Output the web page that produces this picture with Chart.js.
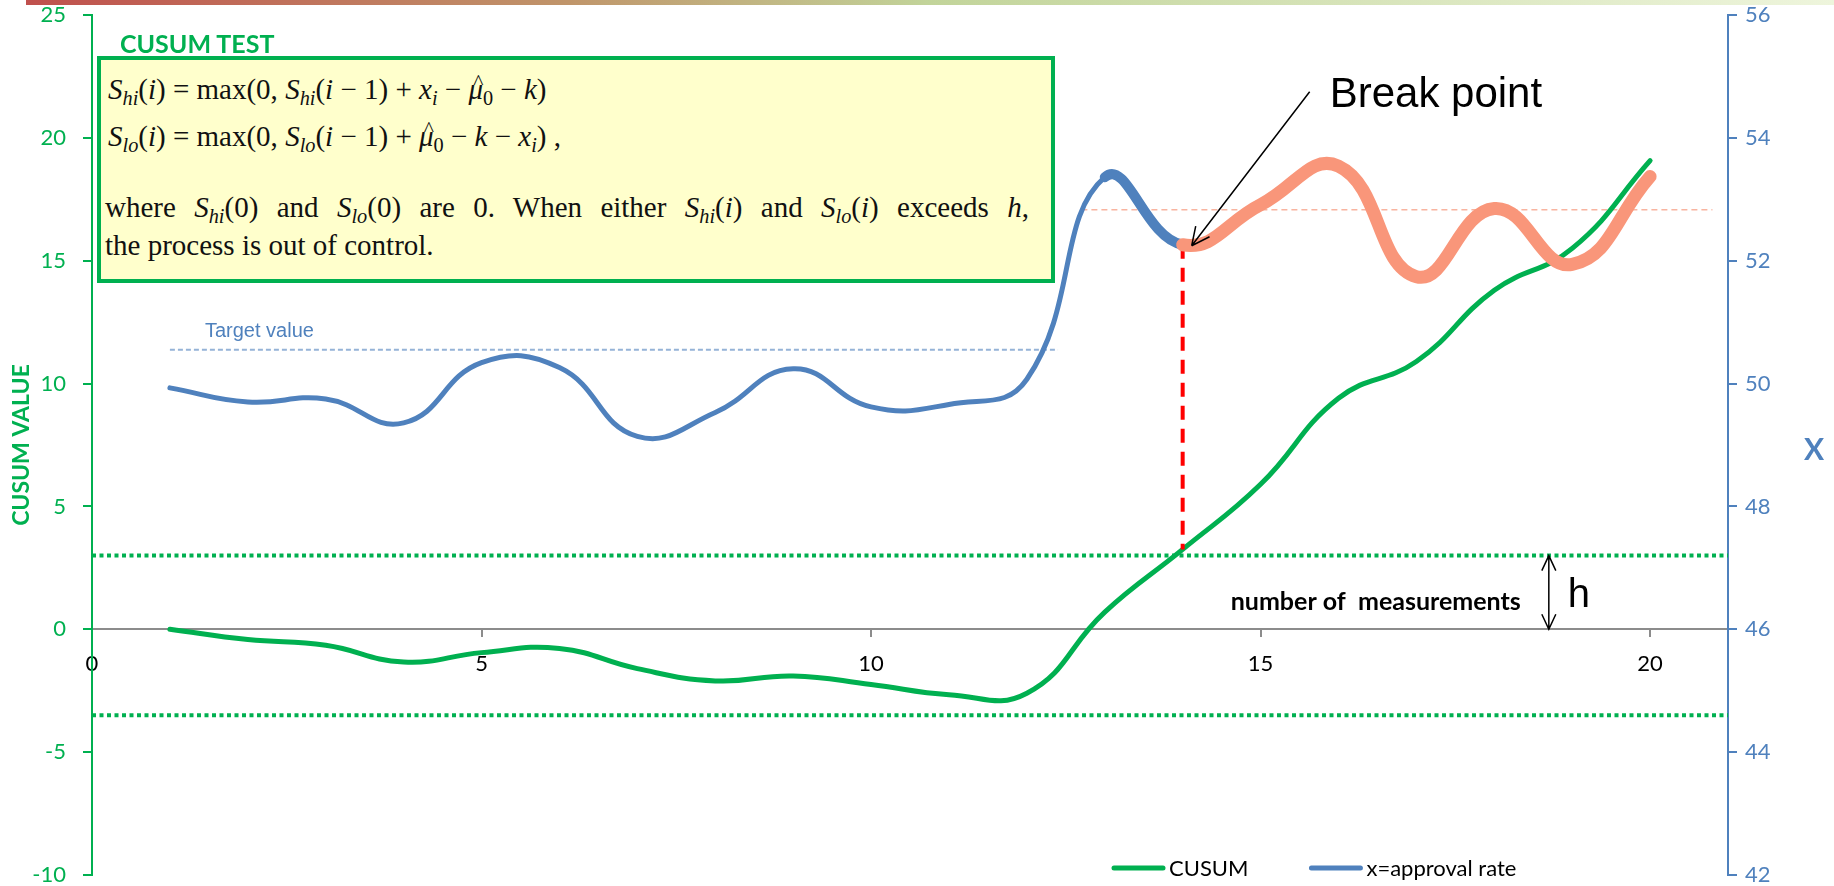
<!DOCTYPE html>
<html>
<head>
<meta charset="utf-8">
<script src="https://cdn.jsdelivr.net/npm/chart.js@4.4.1/dist/chart.umd.min.js"></script>
<style>
  html, body { margin: 0; padding: 0; background: #fff; }
  #wrap { position: relative; width: 1834px; height: 886px; overflow: hidden; }
  #chart { position: absolute; left: 0; top: 0; }
  #testTitle { position: absolute; left: 120px; top: 31px; font: bold 25px Lato, sans-serif; line-height: 25px; color: #00b050; white-space: nowrap; }
  #box { position: absolute; left: 97px; top: 56px; width: 958px; height: 227px; box-sizing: border-box;
         border: 4px solid #00b050; background: #ffffcc; font-family: "Liberation Serif", serif; font-size: 29px; color: #111; }
  #box .ln { position: absolute; line-height: 32px; white-space: nowrap; }
  #box .just { width: 924px; text-align: justify; text-align-last: justify; white-space: normal; }
  #box sub { font-size: 0.7em; font-style: italic; vertical-align: -0.28em; line-height: 0; }
  #box sub.n { font-style: normal; }
  .hat { position: relative; display: inline-block; font-style: italic; }
  .hat::before { content: "^"; position: absolute; left: 0.22em; top: -0.3em; font-style: normal; font-size: 0.75em; }
</style>
</head>
<body>
<div id="wrap">
  <canvas id="chart" width="1834" height="886"></canvas>
  <div id="testTitle">CUSUM TEST</div>
  <div id="box">
    <div class="ln" style="top:13px;left:7px"><i>S</i><sub>hi</sub>(<i>i</i>) = max(0, <i>S</i><sub>hi</sub>(<i>i</i> − 1) + <i>x</i><sub>i</sub> − <span class="hat">μ</span><sub class="n">0</sub> − <i>k</i>)</div>
    <div class="ln" style="top:60px;left:7px"><i>S</i><sub>lo</sub>(<i>i</i>) = max(0, <i>S</i><sub>lo</sub>(<i>i</i> − 1) + <span class="hat">μ</span><sub class="n">0</sub> − <i>k</i> − <i>x</i><sub>i</sub>) ,</div>
    <div class="ln just" style="top:131px;left:4px">where <i>S</i><sub>hi</sub>(0) and <i>S</i><sub>lo</sub>(0) are 0. When either <i>S</i><sub>hi</sub>(<i>i</i>) and <i>S</i><sub>lo</sub>(<i>i</i>) exceeds <i>h</i>,</div>
    <div class="ln" style="top:169px;left:4px">the process is out of control.</div>
  </div>
</div>
<script>
// measurement number on the x axis
const measurements = [1, 2, 3, 4, 5, 6, 7, 8, 9, 10, 11, 12, 13, 14, 15, 16, 17, 18, 19, 20];
// CUSUM value (left axis)
const cusumValues = [0, -0.42, -0.65, -1.33, -0.95, -0.78, -1.6, -2.1, -1.9, -2.25, -2.66, -2.6, 0.7, 3.25, 5.9, 9.4, 10.9, 13.8, 15.5, 19.07];
// x = approval rate (right axis)
const approvalRate = [49.93, 49.7, 49.75, 49.36, 50.34, 50.26, 49.14, 49.53, 50.24, 49.62, 49.66, 50.07, 53.36, 52.26, 52.91, 53.54, 51.74, 52.85, 51.94, 53.37];

// reference levels
const hUpper = 3;
const hLower = -3.5;
const targetValue = 50.55;
const targetSpan = [1, 12.4];
const shiftedLevel = 52.83;
const shiftedSpan = [12.7, 20.8];
const breakIndex = 13;          // measurement 14
const breakBottom = 47.3;       // right-axis value where the red marker stops
const hArrowAt = 18.7;

// tick labels
const cusumTicks = [-10, -5, 0, 5, 10, 15, 20, 25];
const rateTicks = [42, 44, 46, 48, 50, 52, 54, 56];
const measureTicks = [0, 5, 10, 15, 20];

const green = '#00b050';
const blue = '#4f81bd';
const salmon = '#f9967a';

const pts = (xs, ys) => xs.map((x, i) => ({ x: x, y: ys[i] }));

// Top banner, annotations, right title and legend
const decorations = {
  id: 'decorations',
  beforeDraw(chart) {
    const ctx = chart.ctx;
    const g = ctx.createLinearGradient(26, 0, chart.width, 0);
    g.addColorStop(0, '#c0504d');
    g.addColorStop(0.3, '#c0956a');
    g.addColorStop(0.5, '#c2d49a');
    g.addColorStop(1, '#eef5dc');
    ctx.save();
    ctx.fillStyle = g;
    ctx.fillRect(26, 0, chart.width - 26, 5);
    ctx.restore();
  },
  afterDraw(chart) {
    const ctx = chart.ctx;
    const xs = chart.scales.x, yl = chart.scales.y, yr = chart.scales.y2;
    ctx.save();

    // Target value label
    ctx.fillStyle = blue;
    ctx.font = '20px "Liberation Sans", Arial';
    ctx.textBaseline = 'alphabetic';
    ctx.fillText('Target value', xs.getPixelForValue(1.45), yr.getPixelForValue(targetValue) - 13);

    // Break point arrow
    const tipX = xs.getPixelForValue(measurements[breakIndex]) + 9;
    const tipY = yr.getPixelForValue(approvalRate[breakIndex]) + 1;
    const tailX = tipX + 118, tailY = tipY - 154;
    ctx.strokeStyle = '#000';
    ctx.lineWidth = 1.5;
    ctx.beginPath();
    ctx.moveTo(tailX, tailY);
    ctx.lineTo(tipX, tipY);
    const ang = Math.atan2(tailY - tipY, tailX - tipX);
    [0.45, -0.45].forEach(d => {
      ctx.moveTo(tipX, tipY);
      ctx.lineTo(tipX + 20 * Math.cos(ang + d), tipY + 20 * Math.sin(ang + d));
    });
    ctx.stroke();
    ctx.fillStyle = '#000';
    ctx.font = '42px "Liberation Sans", Arial';
    ctx.fillText('Break point', tailX + 20, tailY + 15);

    // h double arrow
    const hx = xs.getPixelForValue(hArrowAt);
    const top = yl.getPixelForValue(hUpper), bot = yl.getPixelForValue(0);
    ctx.lineWidth = 1.5;
    ctx.beginPath();
    ctx.moveTo(hx, top); ctx.lineTo(hx, bot);
    ctx.moveTo(hx - 7, top + 15); ctx.lineTo(hx, top); ctx.lineTo(hx + 7, top + 15);
    ctx.moveTo(hx - 7, bot - 15); ctx.lineTo(hx, bot); ctx.lineTo(hx + 7, bot - 15);
    ctx.stroke();
    ctx.font = '40px "Liberation Sans", Arial';
    ctx.fillText('h', hx + 19, bot - 22);

    ctx.font = 'bold 25px Lato, sans-serif';
    ctx.textAlign = 'right';
    ctx.textBaseline = 'middle';
    ctx.fillText('number of  measurements', hx - 28, bot - 27);

    // right axis title
    ctx.textAlign = 'center';
    ctx.fillStyle = blue;
    ctx.font = 'bold 30px Lato, sans-serif';
    ctx.fillText('X', 1814, (chart.chartArea.top + chart.chartArea.bottom) / 2 + 5);

    // legend
    let lx = 1111;
    const ly = 868;
    ctx.textAlign = 'left';
    ctx.font = '22px Lato, sans-serif';
    ctx.lineCap = 'round';
    chart.data.datasets.slice(0, 2).forEach(ds => {
      ctx.strokeStyle = ds.borderColor;
      ctx.lineWidth = 5;
      ctx.beginPath();
      ctx.moveTo(lx + 3, ly); ctx.lineTo(lx + 52, ly);
      ctx.stroke();
      ctx.fillStyle = '#000';
      ctx.fillText(ds.label, lx + 58, ly + 1);
      lx += 58 + ctx.measureText(ds.label).width + 60;
    });
    ctx.restore();
  }
};

new Chart(document.getElementById('chart'), {
  type: 'line',
  data: {
    datasets: [
      {
        label: 'CUSUM',
        data: pts(measurements, cusumValues),
        yAxisID: 'y',
        borderColor: green,
        borderWidth: 5,
        tension: 0.45,
        pointRadius: 0,
        borderCapStyle: 'round',
        order: 3
      },
      {
        label: 'x=approval rate',
        data: pts(measurements, approvalRate),
        yAxisID: 'y2',
        borderColor: blue,
        borderWidth: 5,
        tension: 0.45,
        pointRadius: 0,
        borderCapStyle: 'round',
        order: 1,
        segment: {
          borderColor: c => c.p0DataIndex >= breakIndex ? salmon : blue,
          borderWidth: c => c.p0DataIndex >= breakIndex ? 13 : (c.p0DataIndex === breakIndex - 1 ? 10 : 5)
        }
      },
      {
        label: 'upper h',
        data: [{ x: 0, y: hUpper }, { x: 21, y: hUpper }],
        yAxisID: 'y', borderColor: green, borderWidth: 4, borderDash: [4, 3.5], pointRadius: 0, order: 5
      },
      {
        label: 'lower h',
        data: [{ x: 0, y: hLower }, { x: 21, y: hLower }],
        yAxisID: 'y', borderColor: green, borderWidth: 4, borderDash: [4, 3.5], pointRadius: 0, order: 5
      },
      {
        label: 'target',
        data: [{ x: targetSpan[0], y: targetValue }, { x: targetSpan[1], y: targetValue }],
        yAxisID: 'y2', borderColor: '#95b3d7', borderWidth: 2, borderDash: [5, 3], pointRadius: 0, order: 5
      },
      {
        label: 'shifted',
        data: [{ x: shiftedSpan[0], y: shiftedLevel }, { x: shiftedSpan[1], y: shiftedLevel }],
        yAxisID: 'y2', borderColor: '#f8b4a0', borderWidth: 1.5, borderDash: [6, 4], pointRadius: 0, order: 5
      },
      {
        label: 'break',
        data: [{ x: measurements[breakIndex], y: approvalRate[breakIndex] }, { x: measurements[breakIndex], y: breakBottom }],
        yAxisID: 'y2', borderColor: '#ff0000', borderWidth: 4, borderDash: [14, 9], pointRadius: 0, order: 2
      }
    ]
  },
  options: {
    responsive: false,
    animation: false,
    layout: { padding: { top: 15, bottom: 11, left: 0, right: 0 } },
    plugins: { legend: { display: false }, tooltip: { enabled: false } },
    scales: {
      x: {
        type: 'linear',
        min: 0, max: 21,
        position: { y: 0 },
        afterBuildTicks: s => { s.ticks = measureTicks.map(v => ({ value: v })); },
        ticks: { color: '#000', font: { family: 'Lato', size: 22 }, padding: 14 },
        grid: { drawOnChartArea: false, drawTicks: true, tickLength: 7, color: '#8c8c8c', lineWidth: 2 },
        border: { color: '#8c8c8c', width: 2 }
      },
      y: {
        position: 'left',
        min: -10, max: 25,
        afterBuildTicks: s => { s.ticks = cusumTicks.map(v => ({ value: v })); },
        afterFit: s => { s.width = 92; s.paddingTop = 0; s.paddingBottom = 0; },
        ticks: { color: green, font: { family: 'Lato', size: 22, lineHeight: 1 }, padding: 17 },
        grid: { drawOnChartArea: false, drawTicks: true, tickLength: 9, color: green, lineWidth: 2 },
        border: { color: green, width: 2 },
        title: { display: true, text: 'CUSUM VALUE', color: green, font: { family: 'Lato', size: 23, weight: 'bold' }, padding: { top: 8, bottom: 0 } }
      },
      y2: {
        position: 'right',
        min: 42, max: 56,
        afterBuildTicks: s => { s.ticks = rateTicks.map(v => ({ value: v })); },
        afterFit: s => { s.width = 106; s.paddingTop = 0; s.paddingBottom = 0; },
        ticks: { color: blue, font: { family: 'Lato', size: 22, lineHeight: 1 }, padding: 8 },
        grid: { drawOnChartArea: false, drawTicks: true, tickLength: 9, color: blue, lineWidth: 2 },
        border: { color: blue, width: 2 }
      }
    }
  },
  plugins: [decorations]
});
</script>
</body>
</html>
